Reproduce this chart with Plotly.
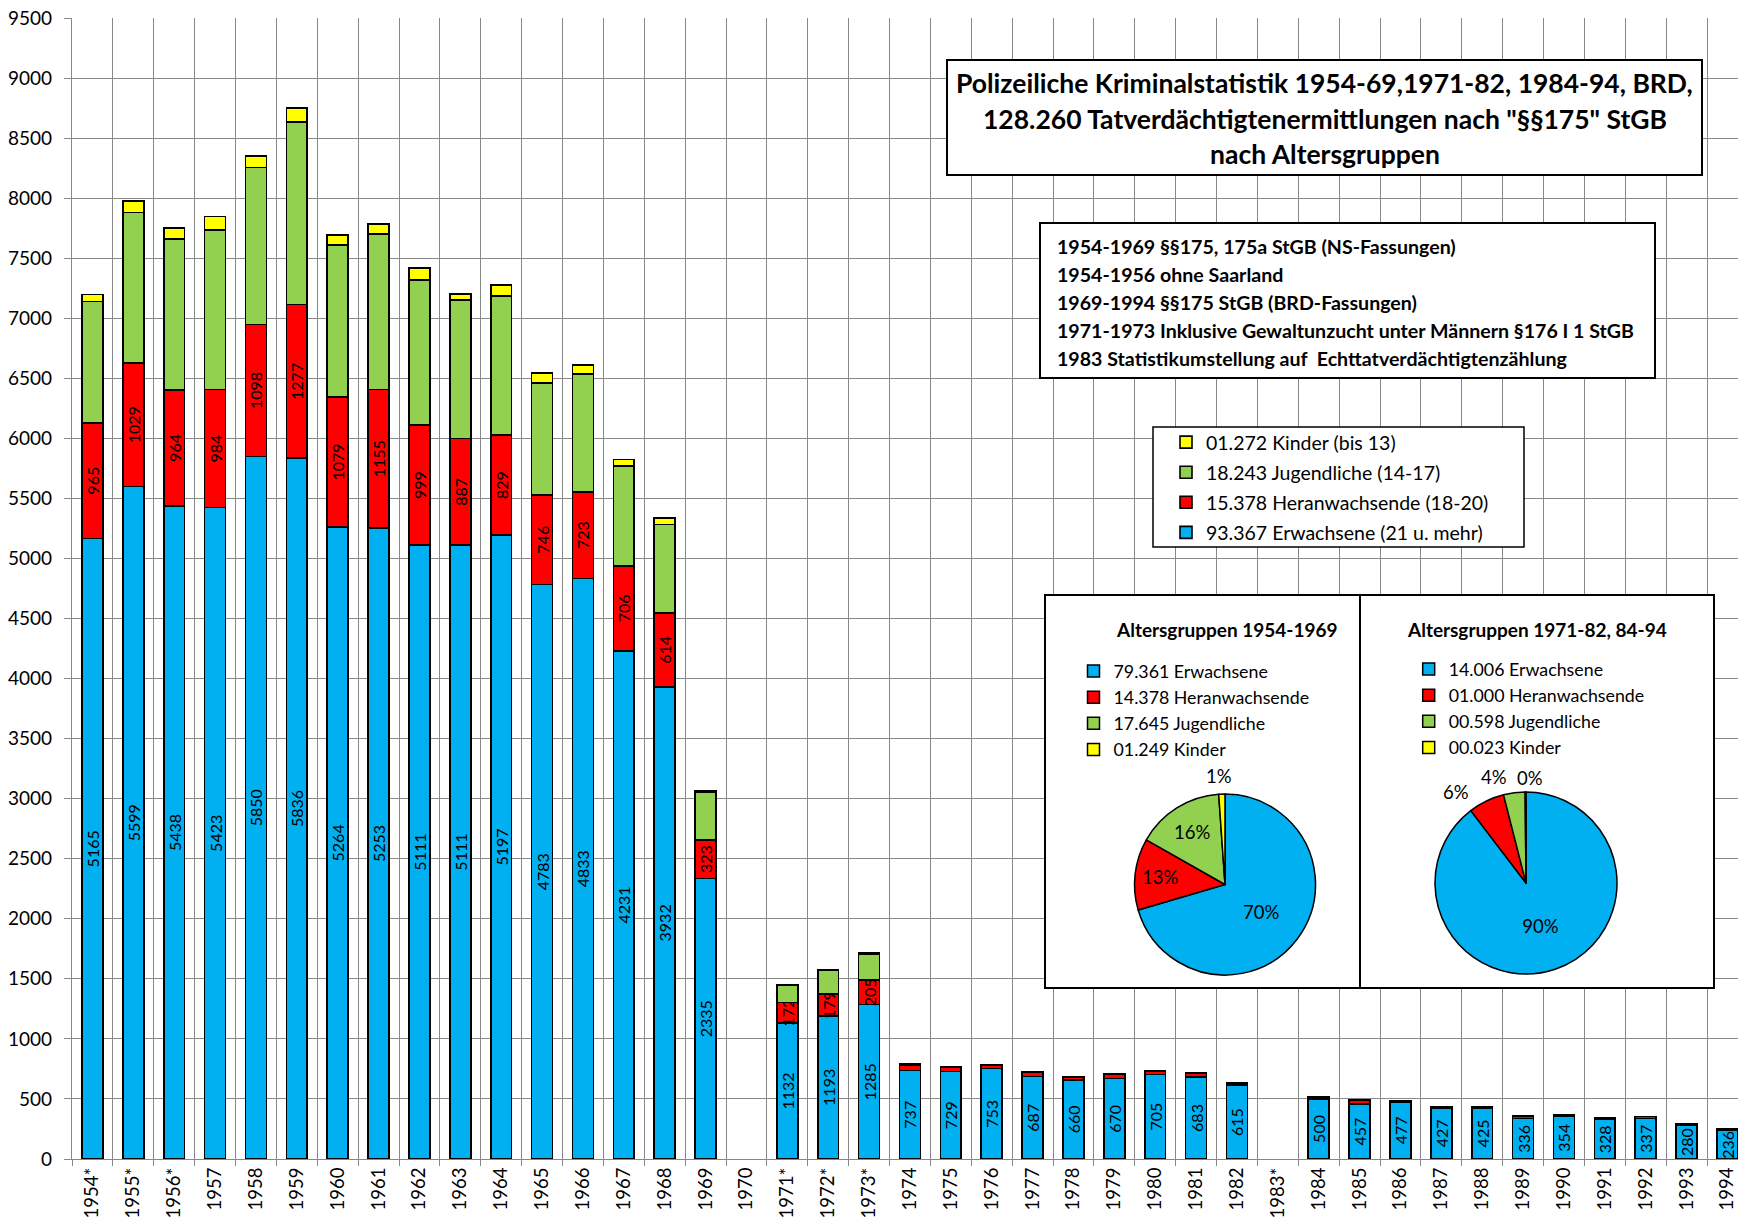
import plotly.graph_objects as go

# Police crime statistics, suspects under §175 StGB by age group
years = ["1954*", "1955*", "1956*", "1957", "1958", "1959", "1960", "1961", "1962",
         "1963", "1964", "1965", "1966", "1967", "1968", "1969", "1970", "1971*",
         "1972*", "1973*", "1974", "1975", "1976", "1977", "1978", "1979", "1980",
         "1981", "1982", "1983*", "1984", "1985", "1986", "1987", "1988", "1989",
         "1990", "1991", "1992", "1993", "1994"]

erwachsene = [5165, 5599, 5438, 5423, 5850, 5836, 5264, 5253, 5111, 5111, 5197, 4783,
              4833, 4231, 3932, 2335, None, 1132, 1193, 1285, 737, 729, 753, 687, 660,
              670, 705, 683, 615, None, 500, 457, 477, 427, 425, 336, 354, 328, 337,
              280, 236]
heranwachsende = [965, 1029, 964, 984, 1098, 1277, 1079, 1155, 999, 887, 829, 746, 723,
                  706, 614, 323, None, 172, 179, 205, 48, 34, 30, 32, 24, 36, 28, 30, 20,
                  None, 14, 34, 10, 10, 12, 20, 11, 14, 16, 10, 11]
jugendliche = [1008, 1252, 1260, 1330, 1307, 1520, 1267, 1296, 1211, 1156, 1158, 933,
               981, 832, 738, 396, None, 145, 200, 218, 6, 2, 2, 2, 1, 3, 2, 2, 2, None,
               2, 1, 1, 1, 1, 2, 1, 1, 1, 1, 1]
kinder = [61, 94, 89, 111, 97, 119, 83, 80, 97, 50, 95, 84, 72, 56, 52, 9, None, 3, 4,
          6, 3, 1, 1, 1, 0, 1, 1, 1, 1, None, 0, 0, 0, 0, 0, 0, 0, 0, 0, 0, 0]

groups = ["Erwachsene", "Heranwachsende", "Jugendliche", "Kinder"]
group_suffix = ["(21 u. mehr)", "(18-20)", "(14-17)", "(bis 13)"]
series = [erwachsene, heranwachsende, jugendliche, kinder]
colors = ["#00B0F0", "#FF0000", "#92D050", "#FFFF00"]

notes = [
    "1954-1969 §§175, 175a StGB (NS-Fassungen)",
    "1954-1956 ohne Saarland",
    "1969-1994 §§175 StGB (BRD-Fassungen)",
    "1971-1973 Inklusive Gewaltunzucht unter Männern §176 I 1 StGB",
    "1983 Statistikumstellung auf  Echttatverdächtigtenzählung",
]

FONT = "Lato, 'Noto Sans', sans-serif"
GRID = "#888888"

W, H = 1738, 1225
ML, MR, MT, MB = 72, 0, 18, 66
PW, PH = W - ML - MR, H - MT - MB
CAT_W = 40.875          # pixel width of one year category
Y_MAX = 9500


def fx(px):
    return (px - ML) / PW


def fy(py):
    return (H - MB - py) / PH


def dx(px):
    return -0.5 + (px - ML) / CAT_W


def dy(py):
    return (H - MB - py) * Y_MAX / PH


def total(vals, start=0, stop=None):
    return sum(v for v in vals[start:stop] if v)


def thousands(v):
    return f"{v / 1000:06.3f}"


fig = go.Figure()

# stacked bars, one trace per age group
for rank, (name, suffix, vals, col) in enumerate(zip(groups, group_suffix, series, colors)):
    if name in ("Erwachsene", "Heranwachsende"):
        txt = [str(v) if v and v >= 100 else "" for v in vals]
    else:
        txt = None
    fig.add_trace(go.Bar(
        x=years, y=vals, name=f"{thousands(total(vals))} {name} {suffix}",
        marker=dict(color=col, line=dict(color="black", width=1.6)),
        text=txt, texttemplate="%{text}" if txt else None,
        textposition="inside" if txt else "none",
        insidetextanchor="middle", textangle=-90,
        textfont=dict(family=FONT, size=16, color="black"),
        legend="legend", legendgroup=name, legendrank=10 - rank,
        hoverinfo="x+y+name",
    ))

# period totals for the two pies
p1 = (0, 16)
p2 = (17, None)
left_vals = [total(s, *p1) for s in series]
right_vals = [total(s, *p2) for s in series]

pie_specs = [
    (left_vals, (1134.5, 1315.5, 794, 975), "legend2",
     ["inside", "inside", "inside", "none"],
     {3: (1219, 776)}),
    (right_vals, (1435, 1617, 792, 974), "legend3",
     ["inside", "none", "none", "none"],
     {1: (1456, 792), 2: (1494, 777), 3: (1530, 778)}),
]

annotations = []
for vals, (x0, x1, y0, y1), leg, pos, outside in pie_specs:
    fig.add_trace(go.Pie(
        labels=[f"{thousands(v)} {g}" for v, g in zip(vals, groups)],
        values=vals, sort=False, direction="clockwise", rotation=0,
        marker=dict(colors=colors, line=dict(color="black", width=1.5)),
        texttemplate="%{percent:.0%}", textposition=pos,
        insidetextorientation="horizontal",
        textfont=dict(family=FONT, size=18.5, color="black"),
        domain=dict(x=[fx(x0), fx(x1)], y=[fy(y1), fy(y0)]),
        legend=leg, showlegend=True,
    ))
    # percentage labels of the thin slices, set just outside the rim
    s = sum(vals)
    for idx, (lx, ly) in outside.items():
        annotations.append(dict(
            text=f"{round(100 * vals[idx] / s)}%", x=fx(lx), y=fy(ly),
            xref="paper", yref="paper", xanchor="center", yanchor="middle",
            showarrow=False, font=dict(family=FONT, size=18.5, color="black")))

# white framed boxes drawn over the grid but under the data
boxes = [
    (947, 60, 1702, 175, 2),
    (1040, 223, 1655, 378, 2),
    (1153, 427, 1524, 547, 1.5),
    (1045, 595, 1360, 988, 2),
    (1360, 595, 1714, 988, 2),
]
shapes = []
for x0, y0, x1, y1, lw in boxes:
    shapes.append(dict(type="rect", xref="x", yref="y",
                       x0=dx(x0), x1=dx(x1), y0=dy(y1), y1=dy(y0),
                       fillcolor="white", line=dict(color="black", width=lw),
                       layer="between"))

title_lines = [
    "Polizeiliche Kriminalstatistik 1954-69,1971-82, 1984-94, BRD,",
    f"{total(erwachsene + heranwachsende + jugendliche + kinder) / 1000:.3f} "
    "Tatverdächtigtenermittlungen nach \"§§175\" StGB",
    "nach Altersgruppen",
]
for i, line in enumerate(title_lines):
    annotations.append(dict(
        text=f"<b>{line}</b>", x=fx(1324.5), y=fy(83.5 + 35 * i),
        xref="paper", yref="paper", xanchor="center", yanchor="middle",
        showarrow=False, font=dict(family=FONT, size=26.5, color="black")))
for i, line in enumerate(notes):
    annotations.append(dict(
        text=f"<b>{line}</b>", x=fx(1055), y=fy(247 + 27.8 * i),
        xref="paper", yref="paper", xanchor="left", yanchor="middle",
        showarrow=False, font=dict(family=FONT, size=19.6, color="black")))
for txt, xc in [("Altersgruppen 1954-1969", 1227), ("Altersgruppen 1971-82, 84-94", 1537)]:
    annotations.append(dict(
        text=f"<b>{txt}</b>", x=fx(xc), y=fy(629.6), xref="paper", yref="paper",
        xanchor="center", yanchor="middle", showarrow=False,
        font=dict(family=FONT, size=19, color="black")))

fig.update_layout(
    width=W, height=H,
    margin=dict(l=ML, r=MR, t=MT, b=MB),
    paper_bgcolor="white", plot_bgcolor="white",
    font=dict(family=FONT, size=18, color="black"),
    barmode="stack", bargap=0.49,
    uniformtext=dict(mode="show", minsize=16),
    xaxis=dict(
        type="category", categoryorder="array", categoryarray=years,
        range=[-0.5, -0.5 + PW / CAT_W], tickson="boundaries",
        tickangle=-90, tickfont=dict(family=FONT, size=18.5, color="black"),
        ticks="outside", ticklen=6, tickcolor=GRID, tickwidth=1.4,
        showgrid=True, gridcolor=GRID, gridwidth=1.4,
        showline=True, linecolor=GRID, linewidth=1.4, fixedrange=True,
    ),
    yaxis=dict(
        range=[0, Y_MAX], dtick=500, tickformat="d",
        tickfont=dict(family=FONT, size=19, color="black"),
        ticks="outside", ticklen=7, tickcolor=GRID, tickwidth=1.4,
        ticklabelstandoff=8,
        showgrid=True, gridcolor=GRID, gridwidth=1.4,
        showline=True, linecolor=GRID, linewidth=1.4, zeroline=False,
        fixedrange=True,
    ),
    legend=dict(
        x=fx(1166), y=fy(423), xanchor="left", yanchor="top",
        traceorder="grouped", tracegroupgap=1.7,
        bgcolor="rgba(0,0,0,0)", borderwidth=0,
        font=dict(family=FONT, size=19.5, color="black"),
    ),
    legend2=dict(
        x=fx(1073.5), y=fy(653), xanchor="left", yanchor="top",
        bgcolor="rgba(0,0,0,0)", borderwidth=0,
        font=dict(family=FONT, size=17.8, color="black"),
    ),
    legend3=dict(
        x=fx(1408.7), y=fy(651), xanchor="left", yanchor="top",
        bgcolor="rgba(0,0,0,0)", borderwidth=0,
        font=dict(family=FONT, size=17.8, color="black"),
    ),
    shapes=shapes,
    annotations=annotations,
    showlegend=True,
)

fig.write_html("out.html")
